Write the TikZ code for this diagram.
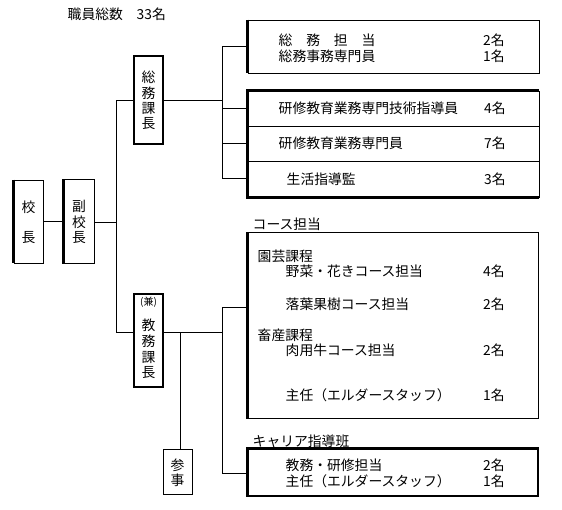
\documentclass[tikz,border=0pt]{standalone}
\usepackage{fontspec}
\setmainfont{Noto Sans CJK JP}
\begin{document}
\begin{tikzpicture}[x=1pt,y=-1pt,
  thinbox/.style={draw, line width=0.9pt, inner sep=0pt},
  thickbox/.style={draw, line width=2.6pt, inner sep=0pt},
  txt/.style={anchor=west, inner sep=0pt, font=\fontsize{13.8pt}{16pt}\selectfont},
  vtxt/.style={align=center, inner sep=0pt, font=\fontsize{13.8pt}{15.3pt}\selectfont},
  thickedge/.style={line width=2.6pt},
  conn/.style={line width=0.9pt}
]
\useasboundingbox (0,0) rectangle (562,509);

% title
\node[txt] (title) at (67.5,14) {職員総数　33名};

% 校長, 副校長
\node[thinbox, minimum width=29pt, minimum height=83pt] (kocho) at (28.5,221.5) {};
\node[vtxt, font=\fontsize{13.8pt}{30pt}\selectfont] (kochoT) at (28.5,222) {校\\長};
\draw[thickedge] (kocho.north west) -- (kocho.south west);

\node[thinbox, minimum width=30pt, minimum height=84pt] (fuku) at (79,221.5) {};
\node[vtxt] (fukuT) at (79,222) {副\\校\\長};
\draw[thickedge] (fuku.north west) -- (fuku.south west);

% 総務課長
\node[thickbox, minimum width=29pt, minimum height=88pt] (somu) at (148.5,100) {};
\node[vtxt] (somuT) at (148.5,100.5) {総\\務\\課\\長};

% 教務課長
\node[thickbox, line width=2.2pt, minimum width=29pt, minimum height=93pt] (kyomu) at (148.5,340.5) {};
\node[inner sep=0pt, font=\fontsize{10pt}{11pt}\selectfont] (kenT) at (148.5,302.5) {(兼)};
\node[vtxt, font=\fontsize{13.8pt}{15.7pt}\selectfont] (kyomuT) at (148.5,349) {教\\務\\課\\長};

% 参事
\node[thinbox, minimum width=29pt, minimum height=45pt] (sanji) at (177.5,471.5) {};
\node[vtxt] (sanjiT) at (177.5,472.5) {参\\事};

% box 1
\node[thinbox, minimum width=291pt, minimum height=53pt] (b1) at (393.5,46.5) {};
\draw[thickedge] (b1.north west) -- (b1.south west);
\node[txt] (b1a) at (278.5,40) {総　務　担　当};
\node[txt] (b1b) at (278.5,56) {総務事務専門員};
\node[txt] (b1an) at (483,40) {2名};
\node[txt] (b1bn) at (483,56) {1名};

% box 2
\node[thinbox, minimum width=291pt, minimum height=106pt] (b2) at (393.5,144) {};
\draw[thickedge] (b2.north east) -- (b2.north west) -- (b2.south west) -- (b2.south east);
\coordinate (d1) at (248,126);
\coordinate (d2) at (248,161);
\draw[conn] (d1) -- (d1 -| b2.east);
\draw[conn] (d2) -- (d2 -| b2.east);
\node[txt] (r1) at (278.5,108) {研修教育業務専門技術指導員};
\node[txt] (r1n) at (484,108) {4名};
\node[txt] (r2) at (278.5,143) {研修教育業務専門員};
\node[txt] (r2n) at (484,143) {7名};
\node[txt] (r3) at (286.5,179) {生活指導監};
\node[txt] (r3n) at (484,179) {3名};

% course box
\node[txt] (courseL) at (252.5,224) {コース担当};
\node[thinbox, minimum width=290pt, minimum height=186pt] (cb) at (393,325.5) {};
\draw[thickedge] (cb.north west) -- (cb.south west);
\node[txt] (c1) at (257.5,256) {園芸課程};
\node[txt] (c2) at (285.5,271) {野菜・花きコース担当};
\node[txt] (c2n) at (483,271) {4名};
\node[txt] (c3) at (285.5,304) {落葉果樹コース担当};
\node[txt] (c3n) at (483,304) {2名};
\node[txt] (c4) at (257.5,335) {畜産課程};
\node[txt] (c5) at (285.5,350) {肉用牛コース担当};
\node[txt] (c5n) at (483,350) {2名};
\node[txt] (c6) at (285.5,395) {主任（エルダースタッフ）};
\node[txt] (c6n) at (483,395) {1名};

% career box
\node[txt] (careerL) at (252.5,441.5) {キャリア指導班};
\node[thinbox, line width=1.5pt, minimum width=290pt, minimum height=47pt] (kb) at (393,472.5) {};
\draw[thickedge] (kb.north east) -- (kb.north west) -- (kb.south west);
\node[txt] (k1) at (285.5,465) {教務・研修担当};
\node[txt] (k1n) at (483,465) {2名};
\node[txt] (k2) at (285.5,481) {主任（エルダースタッフ）};
\node[txt] (k2n) at (483,481) {1名};

% connectors
\coordinate (ja) at (116,100);
\coordinate (jb) at (116,332);
\coordinate (jf) at (116,222);
\draw[conn] (kocho.east) -- (fuku.west);
\draw[conn] (fuku.east |- jf) -- (jf);
\draw[conn] (ja) -- (jb);
\draw[conn] (ja) -- (somu.west);
\draw[conn] (jb) -- (jb -| kyomu.west);

\coordinate (s0) at (222,100);
\coordinate (s1) at (222,46);
\coordinate (s2) at (222,108);
\coordinate (s3) at (222,143);
\coordinate (s4) at (222,178);
\draw[conn] (somu.east) -- (s0);
\draw[conn] (s1) -- (s4);
\draw[conn] (s1) -- (s1 -| b1.west);
\draw[conn] (s2) -- (s2 -| b2.west);
\draw[conn] (s3) -- (s3 -| b2.west);
\draw[conn] (s4) -- (s4 -| b2.west);

\coordinate (k0) at (222,332);
\coordinate (k1c) at (222,307);
\coordinate (k2c) at (222,473);
\coordinate (ks) at (180,332);
\draw[conn] (kyomu.east |- k0) -- (k0);
\draw[conn] (k1c) -- (k2c);
\draw[conn] (k1c) -- (k1c -| cb.west);
\draw[conn] (k2c) -- (k2c -| kb.west);
\draw[conn] (ks) -- (ks |- sanji.north);
\end{tikzpicture}
\end{document}
